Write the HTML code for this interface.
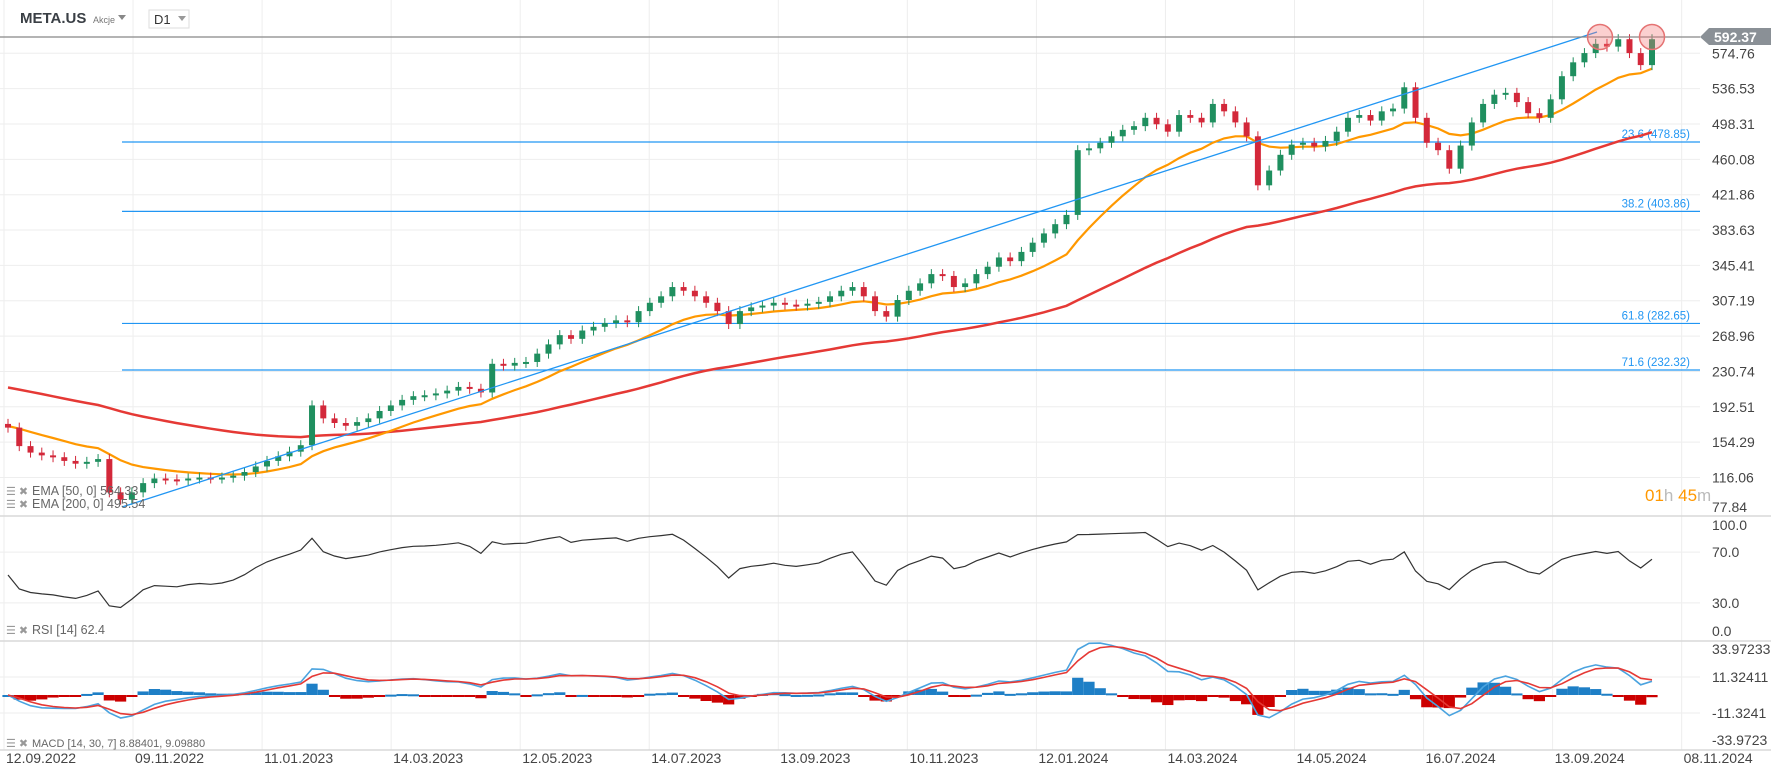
<!DOCTYPE html>
<html><head><meta charset="utf-8"><style>
html,body{margin:0;padding:0;background:#fff;width:1771px;height:770px;overflow:hidden}
svg{display:block;font-family:"Liberation Sans",sans-serif}
</style></head><body>
<svg id="c" width="1771" height="770" viewBox="0 0 1771 770">
<g id="grid"></g>
<g id="main"></g>
<g id="rsi"></g>
<g id="macd"></g>
<g id="axes"></g>
<g>
<text x="20" y="23" font-size="15" font-weight="bold" fill="#3a3f45">META.US</text>
<text x="93" y="23" font-size="9" fill="#777">Akcje</text>
<path d="M118 15 L126 15 L122 20Z" fill="#888"/>
<rect x="149" y="10" width="40" height="18" fill="#fff" stroke="#ddd"/>
<text x="154" y="24" font-size="13" fill="#333">D1</text>
<path d="M178 16 L186 16 L182 21Z" fill="#999"/>
</g>
<g font-size="12.5" fill="#666">
<text x="6" y="495" fill="#999" font-size="11">☰ ✖</text>
<text x="32" y="495">EMA [50, 0] 564.33</text>
<text x="6" y="508" fill="#999" font-size="11">☰ ✖</text>
<text x="32" y="508">EMA [200, 0] 495.54</text>
<text x="6" y="634" fill="#999" font-size="11">☰ ✖</text>
<text x="32" y="634">RSI [14] 62.4</text>
<text x="6" y="747" fill="#999" font-size="11">☰ ✖</text>
<text x="32" y="747" font-size="11">MACD [14, 30, 7] 8.88401, 9.09880</text>
</g>
<text x="1645" y="501" font-size="17"><tspan fill="#ff9800">01</tspan><tspan fill="#bbb">h </tspan><tspan fill="#ff9800">45</tspan><tspan fill="#bbb">m</tspan></text>
</svg>
<script>
const closes=[170,150,143,140,138,134,131,133,136,100,92,100,110,115,114,113,115,116,115,116,118,122,128,134,139,144,151,194,180,175,172,176,180,188,194,200,204,205,207,210,214,212,208,239,237,240,241,250,260,270,266,275,279,283,286,284,296,305,312,322,318,312,305,296,282,296,300,302,305,303,302,304,306,312,318,322,312,296,290,308,318,326,336,334,322,326,336,344,354,350,360,370,380,390,400,470,472,478,485,492,496,505,498,490,508,505,500,520,512,500,485,432,448,465,476,478,474,480,490,505,508,502,512,515,538,505,478,470,450,475,500,520,530,532,522,510,505,525,550,565,575,585,582,590,575,562,590];
const priceTicks=["574.76","536.53","498.31","460.08","421.86","383.63","345.41","307.19","268.96","230.74","192.51","154.29","116.06","77.84"];
const dateLabels=["12.09.2022","09.11.2022","11.01.2023","14.03.2023","12.05.2023","14.07.2023","13.09.2023","10.11.2023","12.01.2024","14.03.2024","14.05.2024","16.07.2024","13.09.2024","08.11.2024"];
const fibLevels=[478.85,403.86,282.65,232.32];
const fibNames=["23.6","38.2","61.8","71.6"];
const rsiTicks=[100,70,30,0];
const macdTicks=["33.97233","11.32411","-11.3241","-33.9723"];
const macdTickVals=[33.97233,11.32411,-11.3241,-33.9723];
const lastPrice=592.37;
const ema50Seed=172, ema200Seed=215;

const NS="http://www.w3.org/2000/svg";
function mk(tag,attrs,parent){const e=document.createElementNS(NS,tag);for(const k in attrs)e.setAttribute(k,attrs[k]);parent.appendChild(e);return e;}
const X0=8,X1=1652,PR=1700;
const xs=i=>X0+i*(X1-X0)/(closes.length-1);
const py=p=>53.3+(574.76-p)*0.9248;
const ry=v=>641-v*1.27;
const my=v=>695-v*1.59;
const G=document.getElementById('grid'),M=document.getElementById('main'),R=document.getElementById('rsi'),D=document.getElementById('macd'),A=document.getElementById('axes');

dateLabels.forEach((d,i)=>{const x=4+i*129.05;
 const l=mk('line',{x1:x,x2:x,y1:0,y2:750,stroke:'#eeeeee'},G);
 
 const t=mk('text',{x:x+2,y:763,'font-size':14,fill:'#444'},A);t.textContent=d;
 });
priceTicks.forEach(s=>{const y=py(parseFloat(s));
 if(y<512){const l=mk('line',{x1:0,x2:PR,y1:y,y2:y,stroke:'#eeeeee'},G);
 }
 const t=mk('text',{x:1712,y:Math.min(y+5,512),'font-size':14,fill:'#444'},A);t.textContent=s;
 });
rsiTicks.forEach(v=>{const y=ry(v);
 if(v>0&&v<100){const l=mk('line',{x1:0,x2:PR,y1:y,y2:y,stroke:'#eeeeee'},G);}
 const t=mk('text',{x:1712,y:v==100?530:(v==0?636:y+5),'font-size':14,fill:'#444'},A);t.textContent=v.toFixed(1);
 });
macdTicks.forEach((s,i)=>{const y=my(macdTickVals[i]);
 if(Math.abs(macdTickVals[i])<20){const l=mk('line',{x1:0,x2:PR,y1:y,y2:y,stroke:'#eeeeee'},G);}
 const t=mk('text',{x:1712,y:i==0?654:(i==3?745:y+5),'font-size':14,fill:'#444'},A);t.textContent=s;
 });
[516,641,750].forEach(y=>{const l=mk('line',{x1:0,x2:1771,y1:y,y2:y,stroke:'#d8d8d8','stroke-width':1.5},A);
 });

fibLevels.forEach((v,i)=>{const y=py(v);
 const l=mk('line',{x1:122,x2:PR,y1:y,y2:y,stroke:'#2196f3','stroke-width':1.2},M);
 
 const t=mk('text',{x:1690,y:y-4,'font-size':11.5,fill:'#2196f3','text-anchor':'end'},M);t.textContent=fibNames[i]+' ('+v.toFixed(2)+')';
 });

function ema(arr,n,seed){const a=2/(n+1);let e=seed;return arr.map(v=>(e=e+a*(v-e)));}
const per=3.6;
const e50=ema(closes,50/per,ema50Seed),e200=ema(closes,200/per,ema200Seed);
const path=(arr,f)=>arr.map((v,i)=>(i?'L':'M')+xs(i).toFixed(1)+' '+f(v).toFixed(1)).join(' ');
let p=mk('path',{d:path(e200,py),fill:'none',stroke:'#e53935','stroke-width':2.5},M);

p=mk('path',{d:path(e50,py),fill:'none',stroke:'#ff9800','stroke-width':2.2},M);


closes.forEach((c,i)=>{const o=i?closes[i-1]:c+4;const x=xs(i);const up=c>=o;const col=up?'#1f8f5f':'#d3283a';
 const y1=py(Math.max(o,c)),y2=py(Math.min(o,c));
 const w=mk('line',{x1:x,x2:x,y1:y1-5,y2:y2+5,stroke:col,'stroke-width':1},M);
 
 const b=mk('rect',{x:x-3,y:y1,width:6,height:Math.max(2,y2-y1),fill:col},M);
 });

let t=mk('line',{x1:122,y1:507,x2:1597,y2:32,stroke:'#2196f3','stroke-width':1.3},M);

t=mk('line',{x1:0,x2:PR,y1:py(lastPrice),y2:py(lastPrice),stroke:'#888','stroke-width':1.3},M);

[closes.length-6,closes.length-1].forEach(i=>{const c=mk('circle',{cx:i==closes.length-1?xs(i):1600,cy:37,r:12.5,fill:'rgba(244,120,120,0.35)',stroke:'#e57373','stroke-width':1.5},M);
 });
const ly=py(lastPrice);
t=mk('path',{d:`M1700 ${ly} L1709 ${ly-9} L1771 ${ly-9} L1771 ${ly+8} L1709 ${ly+8} Z`,fill:'#8a9096'},A);

t=mk('text',{x:1714,y:ly+5,'font-size':14,'font-weight':'bold',fill:'#fff'},A);t.textContent=lastPrice.toFixed(2);


// RSI
const rn=9;let ag=3,al=3;const rsi=[];
closes.forEach((c,i)=>{if(i>0){const d=c-closes[i-1];
 ag=(ag*(rn-1)+Math.max(d,0))/rn;al=(al*(rn-1)+Math.max(-d,0))/rn;}
 rsi.push(100-100/(1+ag/al));});
const rsiS=rsi.map(v=>52+(v-50)*0.75);
p=mk('path',{d:path(rsiS,ry),fill:'none',stroke:'#333','stroke-width':1.2},R);


// MACD
const ef=ema(closes,14/per,closes[0]),es=ema(closes,30/per,closes[0]);
const macd=ef.map((v,i)=>v-es[i]);const sig=ema(macd,3,0);
macd.forEach((v,i)=>{const h=(v-sig[i])*1.5;const y=my(h),z=my(0);
 const r=mk('rect',{x:xs(i)-5.6,y:Math.min(y,z),width:11.2,height:Math.max(2,Math.abs(y-z)),fill:h>=0?'#1e7fc6':'#cc0000'},D);
 });
p=mk('path',{d:path(macd,my),fill:'none',stroke:'#4aa3df','stroke-width':1.6},D);

p=mk('path',{d:path(sig,my),fill:'none',stroke:'#e53935','stroke-width':1.6},D);

</script>
</body></html>
